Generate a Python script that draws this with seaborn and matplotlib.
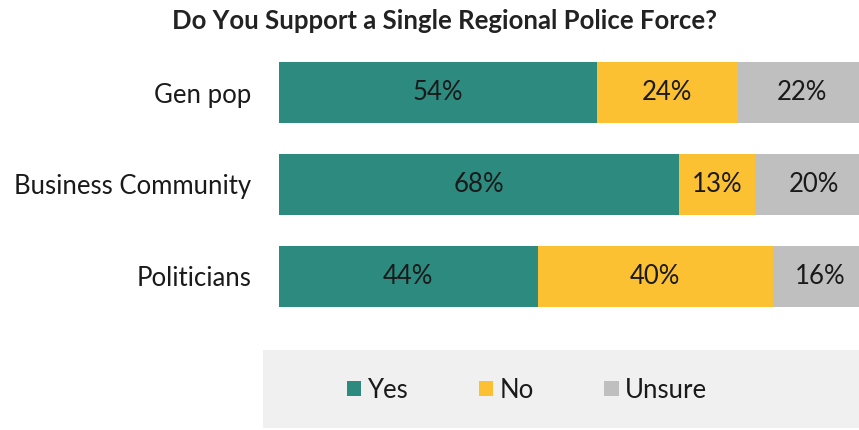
import matplotlib
matplotlib.use("Agg")
import matplotlib.pyplot as plt
from matplotlib.patches import Rectangle
import numpy as np
import pandas as pd
import seaborn as sns

groups = ["Gen pop", "Business Community", "Politicians"]
yes = [54, 68, 44]
no = [24, 13, 40]
unsure = [22, 20, 16]
series_names = ["Yes", "No", "Unsure"]
colors = ["#2C8A7F", "#FBC133", "#BFBFBF"]

sns.set_theme(style="white")
plt.rcParams["font.family"] = ["Lato", "DejaVu Sans"]

fig = plt.figure(figsize=(8.59, 4.30), dpi=100)
W, H = 859, 430
# axes spans from x=279px; 101 units at ~5.88 px each
left_px, right_px = 279, 279 + 101 * 5.88
top_px, bot_px = 47, 322
ax = fig.add_axes([left_px / W, 1 - bot_px / H, (right_px - left_px) / W, (bot_px - top_px) / H])

df = pd.DataFrame({"group": groups, "Yes": yes, "No": no, "Unsure": unsure})
df["c_yes"] = df["Yes"]
df["c_no"] = df["Yes"] + df["No"]
df["c_unsure"] = df["Yes"] + df["No"] + df["Unsure"]

# stacked bars drawn as overlapping cumulative totals
for col, color in zip(["c_unsure", "c_no", "c_yes"], colors[::-1]):
    sns.barplot(data=df, x=col, y="group", order=groups, color=color,
                width=0.665, ax=ax, saturation=1, edgecolor="none")

ax.set_xlim(0, 101)
ax.set_ylim(2.5, -0.5)
ax.set_xlabel("")
ax.set_ylabel("")
ax.set_xticks([])
ax.tick_params(axis="y", length=0, pad=20, labelsize=18.5, labelcolor="#1a1a1a")
for s in ax.spines.values():
    s.set_visible(False)

# value labels centered in each segment
for i in range(len(groups)):
    start = 0
    for vals in (yes, no, unsure):
        v = vals[i]
        ax.text(start + v / 2, i, f"{v}%", ha="center", va="center",
                fontsize=18.5, color="#1a1a1a")
        start += v

fig.text(445 / W, 1 - 21 / H, "Do You Support a Single Regional Police Force?",
         ha="center", va="center", fontsize=18.5, fontweight="bold", color="#222222")

# legend panel
fig.patches.append(Rectangle((263 / W, 1 - 428 / H), (W - 263) / W, (428 - 350) / H,
                             transform=fig.transFigure, facecolor="#F0F0F0",
                             edgecolor="none", zorder=0))
handles = [Rectangle((0, 0), 1, 1, facecolor=c, edgecolor="none") for c in colors]
fig.legend(handles, series_names, loc="center", bbox_to_anchor=(527 / W, 1 - 390 / H),
           ncol=3, frameon=False, fontsize=18.5, handlelength=0.55, handleheight=0.55,
           handletextpad=0.25, columnspacing=2.75, labelcolor="#1a1a1a")

fig.savefig("out.png", dpi=100)
